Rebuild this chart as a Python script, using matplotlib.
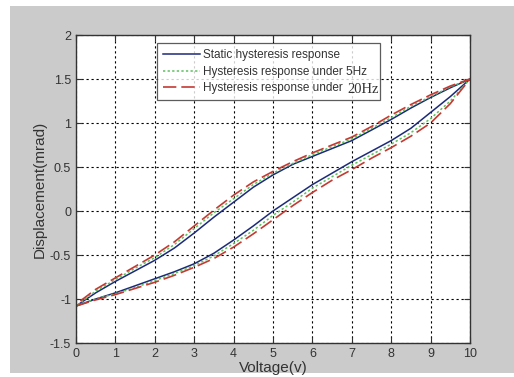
import matplotlib
matplotlib.use('Agg')
import matplotlib.pyplot as plt
from matplotlib.patches import Rectangle

plt.rcParams['font.family'] = ['Liberation Sans', 'DejaVu Sans']
plt.rcParams['axes.unicode_minus'] = False

# voltage samples (V)
voltage = [0, 0.5, 1, 1.5, 2, 2.5, 3, 3.5, 4, 4.5, 5, 5.5, 6, 6.5, 7, 7.5, 8, 8.5, 9, 9.5, 10]

# static hysteresis: lower (rising) and upper (falling) branches
static_rise = [-1.08, -1.0, -0.93, -0.85, -0.77, -0.69, -0.6, -0.48, -0.33, -0.17, 0.0,
               0.15, 0.3, 0.43, 0.56, 0.68, 0.8, 0.94, 1.12, 1.3, 1.5]
static_fall = [-1.08, -0.93, -0.8, -0.68, -0.56, -0.42, -0.25, -0.07, 0.1, 0.27, 0.41,
               0.53, 0.62, 0.71, 0.8, 0.92, 1.04, 1.17, 1.29, 1.4, 1.5]

# 5 Hz
hz5_rise = [-1.08, -1.0, -0.94, -0.87, -0.79, -0.71, -0.62, -0.51, -0.37, -0.22, -0.05,
            0.1, 0.26, 0.39, 0.52, 0.64, 0.76, 0.89, 1.05, 1.25, 1.5]
hz5_fall = [-1.08, -0.91, -0.78, -0.65, -0.53, -0.38, -0.2, -0.02, 0.14, 0.3, 0.43,
            0.54, 0.64, 0.73, 0.82, 0.94, 1.06, 1.19, 1.3, 1.41, 1.5]

# 20 Hz
hz20_rise = [-1.08, -1.01, -0.95, -0.88, -0.81, -0.73, -0.64, -0.54, -0.41, -0.26, -0.1,
             0.06, 0.21, 0.35, 0.47, 0.6, 0.72, 0.85, 1.0, 1.22, 1.5]
hz20_fall = [-1.06, -0.89, -0.76, -0.63, -0.5, -0.35, -0.17, 0.01, 0.18, 0.33, 0.45,
             0.56, 0.66, 0.75, 0.84, 0.96, 1.09, 1.21, 1.32, 1.42, 1.5]


def loop(rise, fall):
    # rise from 0 to 10 V, then come back down along the upper branch
    xs = voltage + voltage[::-1]
    ys = rise + fall[::-1]
    return xs, ys


fig = plt.figure(figsize=(5.14, 3.77), dpi=100, facecolor='white')
fig.patches.append(Rectangle((10 / 514, 0.01), 1, 0.974, transform=fig.transFigure,
                             facecolor='#cbcbcb', edgecolor='none', zorder=-10))

ax = fig.add_axes([76 / 514, 34 / 377, 394 / 514, 308 / 377])
ax.set_facecolor('white')

x, y = loop(static_rise, static_fall)
ax.plot(x, y, color='#1c2a7a', lw=1.1, label='Static hysteresis response')
x, y = loop(hz5_rise, hz5_fall)
ax.plot(x, y, color='#5cc05c', lw=1.1, linestyle=(0, (1.5, 1.5)),
        label='Hysteresis response under 5Hz')
x, y = loop(hz20_rise, hz20_fall)
ax.plot(x, y, color='#c43a32', lw=1.2, linestyle=(0, (8, 3)),
        label='Hysteresis response under')

ax.set_xlim(0, 10)
ax.set_ylim(-1.5, 2)
ax.set_xticks(range(0, 11))
ax.set_yticks([-1.5, -1, -0.5, 0, 0.5, 1, 1.5, 2])
ax.set_yticklabels(['-1.5', '-1', '-0.5', '0', '0.5', '1', '1.5', '2'])
ax.tick_params(direction='in', top=True, right=True, labelsize=9, length=4, colors='#333333')
ax.grid(True, color='black', linestyle=(0, (2, 2.5)), lw=0.8)
for s in ax.spines.values():
    s.set_color('#333333')
    s.set_linewidth(1.0)

ax.set_xlabel('Voltage(v)', fontsize=11, color='#333333', labelpad=1)
ax.set_ylabel('Displacement(mrad)', fontsize=11, color='#333333', labelpad=2)

leg = ax.legend(loc='upper left', bbox_to_anchor=(0.206, 0.973, 0.566, 0.0), mode='expand',
                fontsize=8.5, handlelength=3.1, frameon=True, fancybox=False, borderpad=0.5,
                labelspacing=0.38, handletextpad=0.25, borderaxespad=0)
leg.get_frame().set_edgecolor('#333333')
leg.get_frame().set_linewidth(0.9)
for t in leg.get_texts():
    t.set_color('#333333')

ax.text(0.688, 0.812, '20Hz', transform=ax.transAxes, fontsize=10.5,
        family='Liberation Serif', color='#333333', zorder=10)

fig.savefig('out.png', dpi=100)
